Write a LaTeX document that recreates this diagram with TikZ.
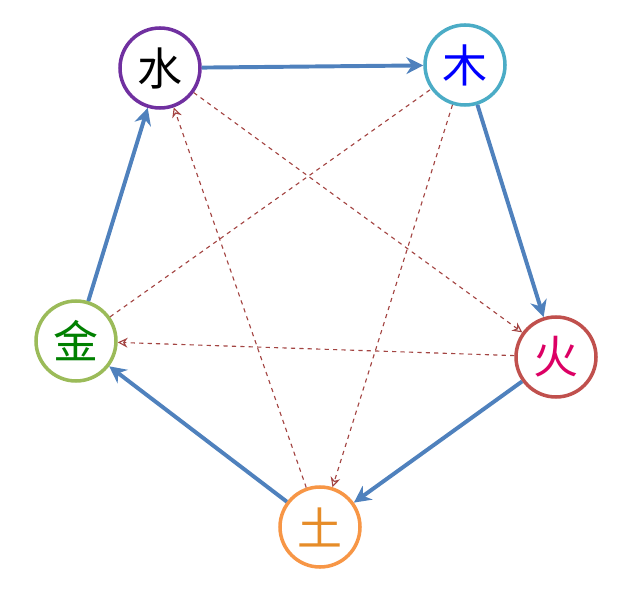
\documentclass[tikz,border=0pt]{standalone}
\usepackage{fontspec}
\newfontfamily\cjk{Noto Sans CJK SC}
\usetikzlibrary{arrows.meta}
\definecolor{shengblue}{RGB}{79,129,189}
\definecolor{kered}{RGB}{192,80,77}
\tikzset{
  elem/.style={circle, minimum size=2cm, line width=2.5pt, fill=white, font=\cjk\fontsize{32}{32}\selectfont},
  sheng/.style={shengblue, line width=2.8pt, -{Stealth[length=12pt,width=12pt]}},
  ke/.style={kered!85!black, dashed, line width=0.8pt, -{Stealth[open,length=7pt,width=7pt]}}
}
\begin{document}
\begin{tikzpicture}
  \useasboundingbox (0,0) rectangle (15.8,15.15);

  % 五行
  \node[elem, draw={rgb,255:red,112;green,48;blue,160}] (shui) at (4.0,13.45) {水};
  \node[elem, draw={rgb,255:red,75;green,172;blue,198}, text=blue] (mu) at (11.625,13.525) {木};
  \node[elem, draw=kered, text={rgb,255:red,220;green,0;blue,100}] (huo) at (13.9,6.225) {火};
  \node[elem, draw={rgb,255:red,247;green,150;blue,70}, text={rgb,255:red,230;green,140;blue,40}] (tu) at (8.0,1.975) {土};
  \node[elem, draw={rgb,255:red,155;green,187;blue,89}, text={rgb,255:red,0;green,128;blue,0}] (jin) at (1.9,6.625) {金};

  % 相克
  \draw[ke] (shui) -- (huo);
  \draw[ke] (mu) -- (tu);
  \draw[ke] (huo) -- (jin);
  \draw[ke] (tu) -- (shui);
  \draw[ke, -] (jin) -- (mu);

  % 相生
  \draw[sheng] (shui) -- (mu);
  \draw[sheng] (mu) -- (huo);
  \draw[sheng] (huo) -- (tu);
  \draw[sheng] (tu) -- (jin);
  \draw[sheng] (jin) -- (shui);
\end{tikzpicture}
\end{document}
